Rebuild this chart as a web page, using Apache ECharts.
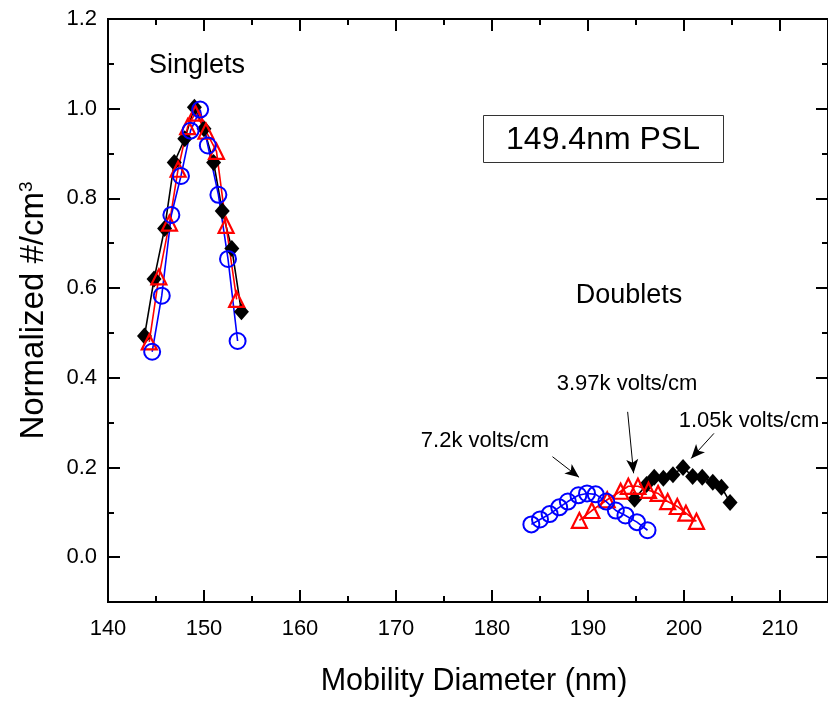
<!DOCTYPE html>
<html>
<head>
<meta charset="utf-8">
<script src="https://cdn.jsdelivr.net/npm/echarts@6/dist/echarts.min.js"></script>
<style>html,body{margin:0;padding:0;background:#fff}#c{width:828px;height:702px}</style>
</head>
<body>
<div id="c"></div>
<script>
// ---- data (x = mobility diameter nm, y = normalized #/cm3) ----
const singletsBlack = [[143.8,0.493],[144.8,0.62],[145.9,0.733],[146.9,0.88],[148.0,0.933],[149.0,1.003],[150.0,0.955],[151.0,0.88],[151.9,0.772],[152.9,0.688],[153.9,0.547]];
const singletsRed = [[144.3,0.48],[145.3,0.625],[146.4,0.745],[147.3,0.865],[148.3,0.96],[149.1,0.99],[150.2,0.95],[151.3,0.905],[152.3,0.74],[153.4,0.575]];
const singletsBlue = [[144.6,0.458],[145.6,0.583],[146.6,0.763],[147.6,0.85],[148.6,0.951],[149.6,0.998],[150.4,0.918],[151.5,0.808],[152.5,0.665],[153.5,0.482]];
const doubletsBlack = [[194.85,0.129],[196.1,0.162],[196.9,0.178],[197.85,0.176],[198.85,0.184],[199.9,0.2],[200.9,0.18],[201.9,0.178],[203.0,0.167],[203.9,0.156],[204.8,0.122]];
const doubletsRed = [[189.1,0.082],[190.4,0.104],[192.0,0.128],[193.4,0.147],[194.2,0.158],[195.2,0.158],[196.3,0.149],[197.3,0.142],[198.3,0.124],[199.3,0.113],[200.2,0.098],[201.3,0.08]];
const doubletsBlue = [[184.1,0.073],[185.0,0.084],[186.0,0.096],[187.0,0.111],[187.9,0.124],[189.0,0.138],[189.9,0.142],[190.8,0.14],[191.9,0.124],[192.9,0.104],[193.9,0.093],[195.1,0.078],[196.2,0.06]];
const xMajorTicks = [140,150,160,170,180,190,200,210];
const xMinorTicks = [145,155,165,175,185,195,205];
const yMajorTicks = [0,0.2,0.4,0.6,0.8,1.0,1.2];
const yMinorTicks = [-0.1,0.1,0.3,0.5,0.7,0.9,1.1];
// arrows: [from, to] in data units
const arrow72 = [[186.3,0.224],[189.07,0.178]];
const arrow397 = [[194.13,0.324],[194.75,0.187]];
const arrow105 = [[203.12,0.276],[200.74,0.22]];

const FONT = 'Liberation Sans, Arial, Helvetica, sans-serif';
const chart = echarts.init(document.getElementById('c'), null, {renderer:'canvas'});

function xAx(pos, ticks, len, labels) {
  return {
    type:'value', min:140, max:215, position:pos,
    axisLine:{show:true, onZero:false, lineStyle:{color:'#000', width:2}},
    axisTick:{show:true, inside:true, length:len, customValues:ticks, lineStyle:{color:'#000', width:2}},
    axisLabel:{show:labels, customValues:ticks, color:'#000', fontSize:22, fontFamily:FONT, margin:16},
    splitLine:{show:false},
    name: labels ? 'Mobility Diameter (nm)' : '',
    nameLocation:'middle', nameGap:64,
    nameTextStyle:{color:'#000', fontSize:30.5, fontFamily:FONT, padding:[0,0,0,12]}
  };
}
function yAx(pos, ticks, len, labels) {
  return {
    type:'value', min:-0.1, max:1.2, position:pos,
    axisLine:{show:true, onZero:false, lineStyle:{color:'#000', width:2}},
    axisTick:{show:true, inside:true, length:len, customValues:ticks, lineStyle:{color:'#000', width:2}},
    axisLabel:{show:labels, customValues:ticks, color:'#000', fontSize:22, fontFamily:FONT, margin:11,
      formatter:(v)=>v.toFixed(1)},
    splitLine:{show:false},
    name: labels ? 'Normalized #/cm{sup|3}' : '',
    nameLocation:'middle', nameGap:57,
    nameTextStyle:{color:'#000', fontSize:33, fontFamily:FONT,
      rich:{sup:{fontSize:19, fontFamily:FONT, color:'#000', verticalAlign:'bottom', padding:[0,0,15,0]}}}
  };
}
function arrowLine(a) {
  return [{coord:a[0], symbol:'none'}, {coord:a[1], symbol:'arrow'}];
}

const option = {
  animation:false,
  backgroundColor:'#fff',
  grid:{left:108, top:19, width:727, height:586, containLabel:false},
  xAxis:[xAx('bottom', xMajorTicks, 12, true), xAx('bottom', xMinorTicks, 6, false),
         xAx('top', xMajorTicks, 12, false), xAx('top', xMinorTicks, 6, false)],
  yAxis:[yAx('left', yMajorTicks, 12, true), yAx('left', yMinorTicks, 6, false),
         yAx('right', yMajorTicks, 12, false), yAx('right', yMinorTicks, 6, false)],
  series:[
    {type:'line', data:singletsBlack, symbol:'diamond', symbolSize:[15,17],
     itemStyle:{color:'#000'}, lineStyle:{color:'#000', width:1.6}},
    {type:'line', data:singletsRed, symbol:'triangle', symbolSize:15,
     itemStyle:{color:'rgba(255,255,255,0)', borderColor:'#ff0000', borderWidth:2.2}, lineStyle:{color:'#ff0000', width:1.6}},
    {type:'line', data:singletsBlue, symbol:'circle', symbolSize:16,
     itemStyle:{color:'rgba(255,255,255,0)', borderColor:'#0000ff', borderWidth:2}, lineStyle:{color:'#0000ff', width:1.6}},
    {type:'line', data:doubletsBlack, symbol:'diamond', symbolSize:[15,17],
     itemStyle:{color:'#000'}, lineStyle:{color:'#000', width:1.6},
     markLine:{silent:true, symbolSize:[9,14], label:{show:false},
       lineStyle:{color:'#000', width:1, type:'solid'},
       data:[arrowLine(arrow72), arrowLine(arrow397), arrowLine(arrow105)]}},
    {type:'line', data:doubletsRed, symbol:'triangle', symbolSize:15,
     itemStyle:{color:'rgba(255,255,255,0)', borderColor:'#ff0000', borderWidth:2.2}, lineStyle:{color:'#ff0000', width:1.6}},
    {type:'line', data:doubletsBlue, symbol:'circle', symbolSize:16,
     itemStyle:{color:'rgba(255,255,255,0)', borderColor:'#0000ff', borderWidth:2}, lineStyle:{color:'#0000ff', width:1.6}}
  ],
  graphic:[
    {type:'text', x:197, y:66, style:{text:'Singlets', font:'27px '+FONT, fill:'#000', align:'center', verticalAlign:'middle'}},
    {type:'text', x:629, y:296, style:{text:'Doublets', font:'27px '+FONT, fill:'#000', align:'center', verticalAlign:'middle'}},
    {type:'rect', shape:{x:483.5, y:115.5, width:240, height:47}, style:{fill:'#fff', stroke:'#333', lineWidth:1}},
    {type:'text', x:603, y:140, style:{text:'149.4nm PSL', font:'32px '+FONT, fill:'#000', align:'center', verticalAlign:'middle'}},
    {type:'text', x:485, y:441, style:{text:'7.2k volts/cm', font:'22px '+FONT, fill:'#000', align:'center', verticalAlign:'middle'}},
    {type:'text', x:627, y:384, style:{text:'3.97k volts/cm', font:'22px '+FONT, fill:'#000', align:'center', verticalAlign:'middle'}},
    {type:'text', x:749, y:421, style:{text:'1.05k volts/cm', font:'22px '+FONT, fill:'#000', align:'center', verticalAlign:'middle'}}
  ]
};
chart.setOption(option);
</script>
</body>
</html>
